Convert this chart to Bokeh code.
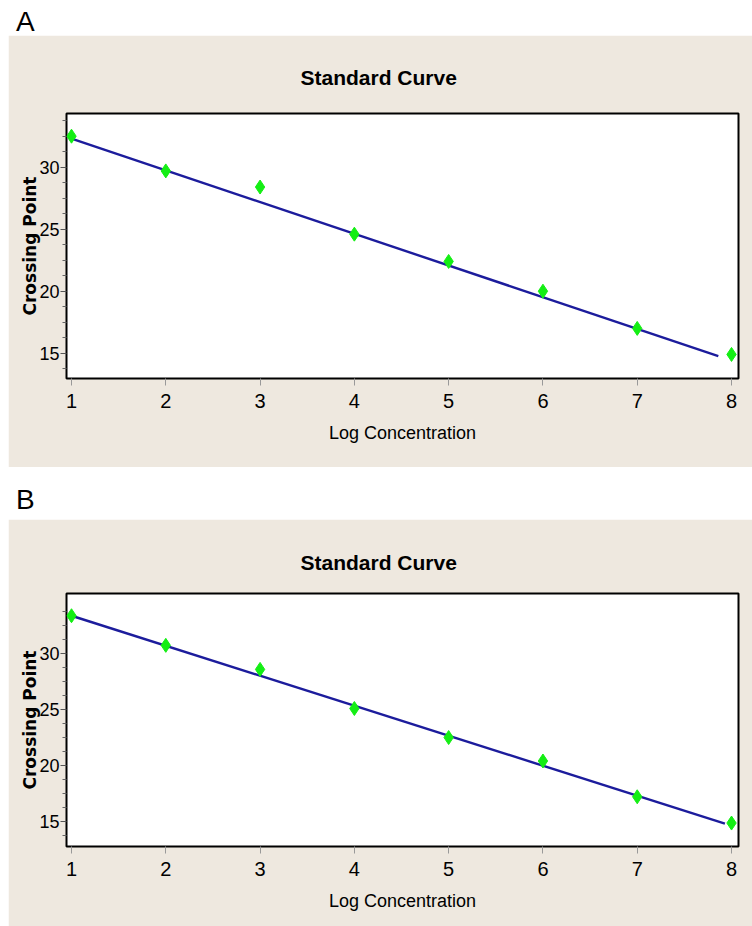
from bokeh.plotting import figure
from bokeh.models import Range1d, FixedTicker, Title, Div
from bokeh.layouts import column
from bokeh.embed import file_html
from bokeh.resources import INLINE

# ---- data ----
concentration = [1, 2, 3, 4, 5, 6, 7, 8]
crossing_a = [32.5, 29.7, 28.4, 24.6, 22.4, 20.0, 17.0, 14.9]
crossing_b = [33.4, 30.75, 28.6, 25.1, 22.5, 20.4, 17.2, 14.85]
fit_x_a = [1.0, 7.86]
fit_y_a = [32.3, 14.76]
fit_x_b = [1.0, 7.93]
fit_y_b = [33.4, 14.8]
x_ticks = [1, 2, 3, 4, 5, 6, 7, 8]
y_ticks = [15, 20, 25, 30]
title_text = "Standard Curve"
x_label = "Log Concentration"
y_label = "Crossing Point"
panel_labels = ["A", "B"]

BEIGE = "#EEE8DF"
LINE_BLUE = "#1c1c9c"
GREEN = "#14ee14"


def make_panel(ys, fx, fy, y_range, top, frame_h, bottom, title_standoff):
    p = figure(frame_width=672, frame_height=frame_h,
               min_border_left=58, min_border_right=14,
               min_border_top=top, min_border_bottom=bottom,
               x_range=Range1d(0.947, 8.074), y_range=Range1d(*y_range),
               output_backend="svg", toolbar_location=None,
               background_fill_color="white", border_fill_color=BEIGE)
    p.grid.visible = False
    p.outline_line_color = "black"
    p.outline_line_width = 2

    xa = p.xaxis[0]
    xa.ticker = FixedTicker(ticks=x_ticks)
    xa.axis_line_color = None
    xa.major_tick_line_color = "#999999"
    xa.major_tick_out = 7
    xa.major_tick_in = 0
    xa.minor_tick_line_color = None
    xa.major_label_text_font = "Liberation Sans"
    xa.major_label_text_font_size = "20px"
    xa.major_label_text_color = "black"
    xa.major_label_standoff = 8
    xa.axis_label = x_label
    xa.axis_label_text_font = "Liberation Sans"
    xa.axis_label_text_font_size = "18px"
    xa.axis_label_text_font_style = "normal"
    xa.axis_label_text_color = "black"
    xa.axis_label_standoff = 12

    ya = p.yaxis[0]
    minor = [t + k * 1.25 for t in [10] + y_ticks for k in (1, 2, 3)]
    ya.ticker = FixedTicker(ticks=y_ticks, minor_ticks=minor)
    ya.axis_line_color = None
    ya.major_tick_line_color = "#555555"
    ya.minor_tick_line_color = "#666666"
    ya.major_tick_out = 6
    ya.major_tick_in = 0
    ya.minor_tick_out = 4
    ya.minor_tick_in = 0
    ya.major_label_text_font = "Liberation Sans"
    ya.major_label_text_font_size = "18px"
    ya.major_label_text_color = "black"
    ya.major_label_standoff = 1
    ya.axis_label = y_label
    ya.axis_label_text_font = "DejaVu Sans"
    ya.axis_label_text_font_size = "17px"
    ya.axis_label_text_font_style = "bold"
    ya.axis_label_text_color = "black"
    ya.axis_label_standoff = -4

    p.line(fx, fy, line_color=LINE_BLUE, line_width=2.4)
    p.scatter(concentration, ys, marker="diamond", size=14,
              fill_color=GREEN, line_color=GREEN)

    p.add_layout(Title(text=title_text, align="left", offset=234,
                       vertical_align="bottom", standoff=title_standoff,
                       text_font="Liberation Sans", text_font_style="bold",
                       text_font_size="21px", text_color="black"), "above")
    return p


def label_div(txt, height, pad_top):
    html = ('<div style="font-family: \'Liberation Sans\', Arial, sans-serif; '
            'font-size:28px; line-height:28px; padding-left:8px; padding-top:%dpx; '
            'color:black;">%s</div>' % (pad_top, txt))
    return Div(text=html, width=744, height=height, margin=0)


pA = make_panel(crossing_a, fit_x_a, fit_y_a, (12.96, 34.33), 78, 265, 89, 50)
pB = make_panel(crossing_b, fit_x_b, fit_y_b, (12.75, 35.39), 74, 253, 80, 39)

layout = column(label_div(panel_labels[0], 27, 0), pA,
                label_div(panel_labels[1], 52, 19), pB, spacing=0,
                margin=(8, 0, 0, 8))

open("out.html", "w").write(file_html(layout, INLINE))
